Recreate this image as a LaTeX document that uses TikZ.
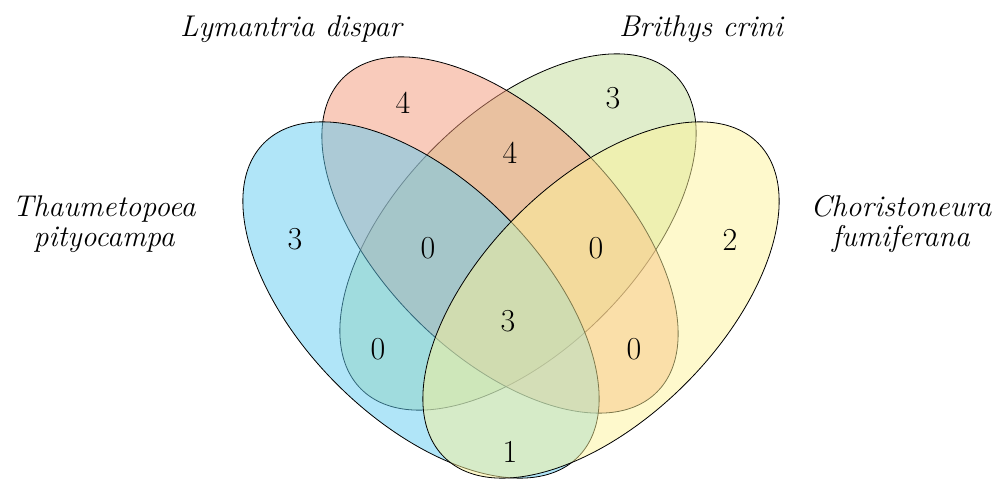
\documentclass[tikz,border=0pt]{standalone}
\usetikzlibrary{positioning}
\definecolor{setA}{RGB}{97,203,241}
\definecolor{setB}{RGB}{243,151,119}
\definecolor{setC}{RGB}{193,219,151}
\definecolor{setD}{RGB}{253,243,153}
\tikzset{
  setshape/.style={fill=#1, fill opacity=0.5, draw=black, line width=0.8pt},
  count/.style={inner sep=0pt, font=\fontsize{32}{38}\selectfont},
  setlabel/.style={inner sep=0pt, align=center, font=\fontsize{30}{30}\selectfont\itshape},
}
\begin{document}
\begin{tikzpicture}[x=1pt,y=1pt]
\useasboundingbox (0,0) rectangle (995,480);
% centres of the four ellipses
\coordinate (cA) at (421,180);
\coordinate (cB) at (500,245);
\coordinate (cC) at (518,248);
\coordinate (cD) at (601,180);
% ellipses, drawn one over the other
\path[setshape=setC, shift={(cC)}, rotate=45]  (0,0) ellipse [x radius=222, y radius=119];
\path[setshape=setB, shift={(cB)}, rotate=-45] (0,0) ellipse [x radius=222, y radius=119];
\path[setshape=setA, shift={(cA)}, rotate=-45] (0,0) ellipse [x radius=222, y radius=119];
\path[setshape=setD, shift={(cD)}, rotate=45]  (0,0) ellipse [x radius=222, y radius=119];
% set names
\node[setlabel, anchor=base] (labB) at (291,443) {Lymantria dispar};
\node[setlabel, anchor=base] (labC) at (701,443) {Brithys crini};
\node[setlabel] (labA) at (104,256) {Thaumetopoea\\pityocampa};
\node[setlabel] (labD) at (901,256) {Choristoneura\\fumiferana};
% region counts
\node[count] (nB)    at (403,377) {4};
\node[count] (nC)    at (613,382) {3};
\node[count] (nBC)   at (510,327) {4};
\node[count] (nA)    at (295,241) {3};
\node[count] (nABC)  at (428,232) {0};
\node[count] (nBCD)  at (596,232) {0};
\node[count] (nD)    at (730,240) {2};
\node[count] (nABCD) at (508,159) {3};
\node[count] (nAC)   at (378,131) {0};
\node[count] (nBD)   at (634,131) {0};
\node[count] (nAD)   at (510,28)  {1};
\end{tikzpicture}
\end{document}
